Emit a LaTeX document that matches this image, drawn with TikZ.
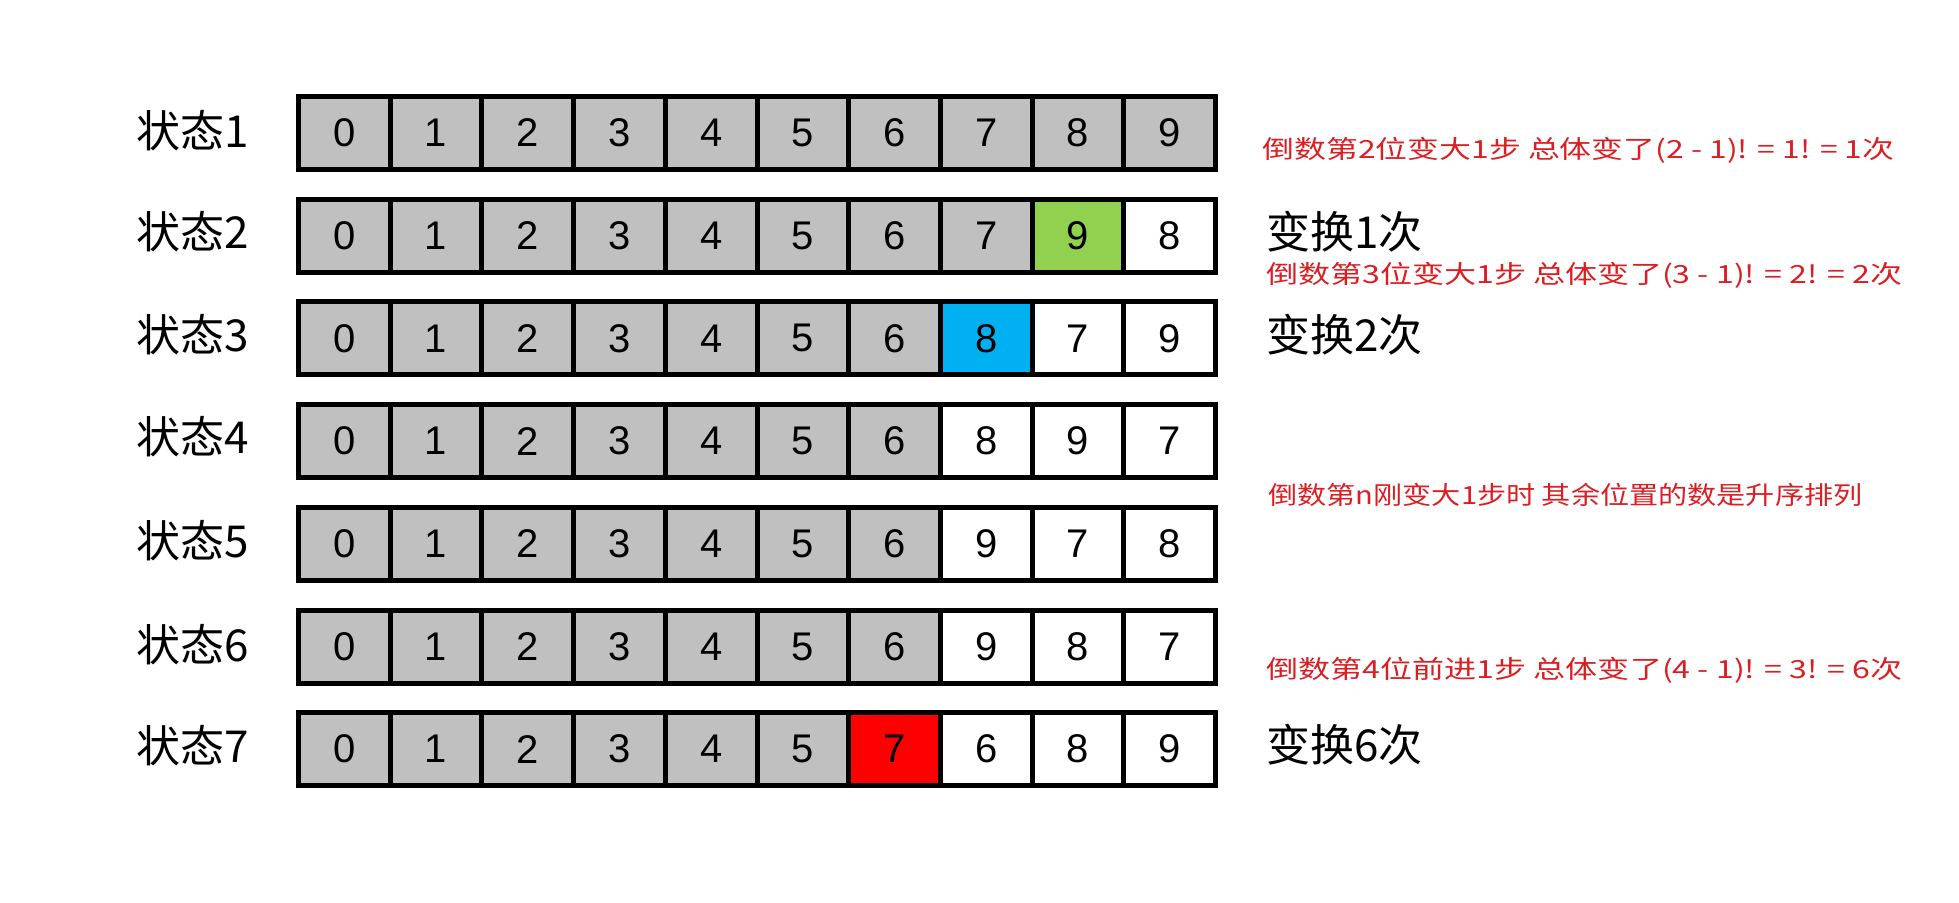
\documentclass[tikz,border=0pt]{standalone}
\usepackage{fontspec}
\usepackage{graphicx}
\setmainfont{Noto Sans CJK SC}
\newfontfamily\digitfont{Liberation Sans}
\definecolor{cellgray}{RGB}{192,192,192}
\definecolor{cellgreen}{RGB}{146,208,80}
\definecolor{cellblue}{RGB}{0,176,240}
\definecolor{cellred}{RGB}{255,0,0}
\definecolor{notered}{RGB}{220,30,35}
\newcommand{\fitnote}[2]{\resizebox{#1}{\height}{#2}}

\begin{document}
\begin{tikzpicture}[x=0.5pt,y=-0.5pt,
    cell/.style={draw,line width=2.5pt,minimum width=45.85pt,
      minimum height=36.5pt,inner sep=0pt,
      font=\digitfont\fontsize{20pt}{24pt}\selectfont},
    state/.style={font=\fontsize{22pt}{26pt}\selectfont},
    count/.style={anchor=west,inner sep=0pt,
      font=\fontsize{22pt}{26pt}\selectfont},
    note/.style={anchor=west,inner sep=0pt,text=notered,
      font=\fontsize{12.5pt}{15pt}\selectfont}]

  \useasboundingbox (0,0) rectangle (1959,903);

  \foreach \v/\f [count=\i from 0] in {0/cellgray,1/cellgray,2/cellgray,
    3/cellgray,4/cellgray,5/cellgray,6/cellgray,7/cellgray,8/cellgray,9/cellgray}
    \node [cell,fill=\f] (r1c\i) at ({344.35+91.7*\i},133) {\v};

  \foreach \v/\f [count=\i from 0] in {0/cellgray,1/cellgray,2/cellgray,
    3/cellgray,4/cellgray,5/cellgray,6/cellgray,7/cellgray,9/cellgreen,8/white}
    \node [cell,fill=\f] (r2c\i) at ({344.35+91.7*\i},235.7) {\v};

  \foreach \v/\f [count=\i from 0] in {0/cellgray,1/cellgray,2/cellgray,
    3/cellgray,4/cellgray,5/cellgray,6/cellgray,8/cellblue,7/white,9/white}
    \node [cell,fill=\f] (r3c\i) at ({344.35+91.7*\i},338.4) {\v};

  \foreach \v/\f [count=\i from 0] in {0/cellgray,1/cellgray,2/cellgray,
    3/cellgray,4/cellgray,5/cellgray,6/cellgray,8/white,9/white,7/white}
    \node [cell,fill=\f] (r4c\i) at ({344.35+91.7*\i},441.1) {\v};

  \foreach \v/\f [count=\i from 0] in {0/cellgray,1/cellgray,2/cellgray,
    3/cellgray,4/cellgray,5/cellgray,6/cellgray,9/white,7/white,8/white}
    \node [cell,fill=\f] (r5c\i) at ({344.35+91.7*\i},543.8) {\v};

  \foreach \v/\f [count=\i from 0] in {0/cellgray,1/cellgray,2/cellgray,
    3/cellgray,4/cellgray,5/cellgray,6/cellgray,9/white,8/white,7/white}
    \node [cell,fill=\f] (r6c\i) at ({344.35+91.7*\i},646.5) {\v};

  \foreach \v/\f [count=\i from 0] in {0/cellgray,1/cellgray,2/cellgray,
    3/cellgray,4/cellgray,5/cellgray,7/cellred,6/white,8/white,9/white}
    \node [cell,fill=\f] (r7c\i) at ({344.35+91.7*\i},749.2) {\v};

  \node [state] (s1) at (193,131) {状态1};
  \node [state] (s2) at (193,232) {状态2};
  \node [state] (s3) at (193,335) {状态3};
  \node [state] (s4) at (193,437) {状态4};
  \node [state] (s5) at (193,541) {状态5};
  \node [state] (s6) at (193,645) {状态6};
  \node [state] (s7) at (193,746) {状态7};

  \node [note] (n1) at (1262,150)
    {\fitnote{316pt}{倒数第2位变大1步 总体变了(2 - 1)! = 1! = 1次}};
  \node [count] (t1) at (1266,232) {变换1次};
  \node [note] (n2) at (1266,275)
    {\fitnote{318pt}{倒数第3位变大1步 总体变了(3 - 1)! = 2! = 2次}};
  \node [count] (t2) at (1266,335) {变换2次};
  \node [note] (n3) at (1268,495)
    {\fitnote{297pt}{倒数第n刚变大1步时 其余位置的数是升序排列}};
  \node [note] (n4) at (1266,670)
    {\fitnote{318pt}{倒数第4位前进1步 总体变了(4 - 1)! = 3! = 6次}};
  \node [count] (t6) at (1266,745) {变换6次};
\end{tikzpicture}
\end{document}
